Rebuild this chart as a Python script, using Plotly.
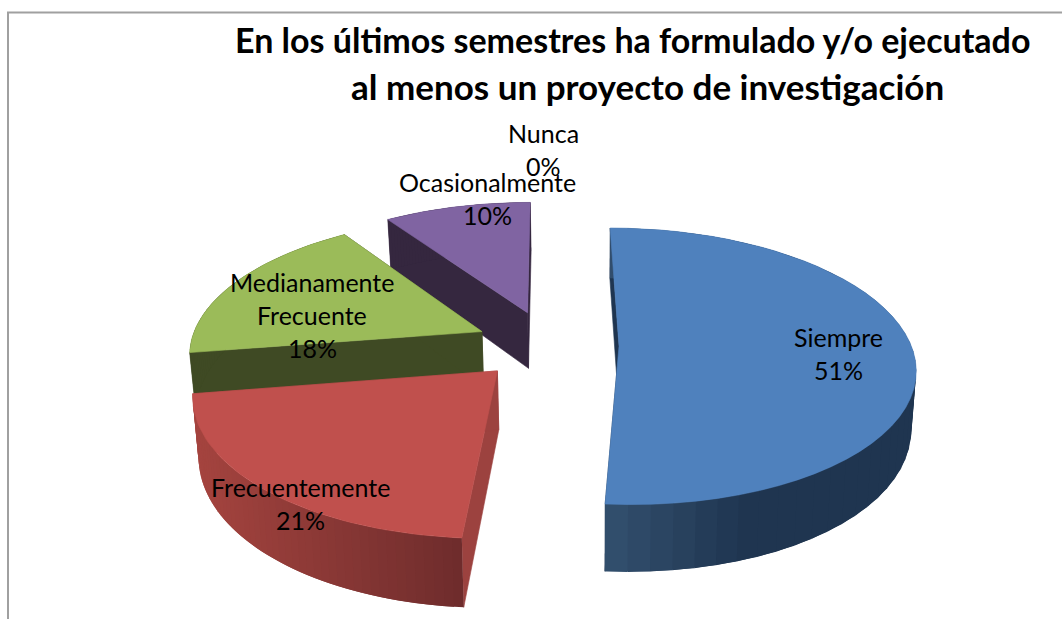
import math
import plotly.graph_objects as go

TITLE_LINES = ["En los últimos semestres ha formulado y/o ejecutado",
               "al menos un proyecto de investigación"]
CATEGORIES = ["Siempre", "Frecuentemente", "Medianamente Frecuente", "Ocasionalmente", "Nunca"]
VALUES = [51.2, 21.3, 18.0, 9.5, 0]
LABEL_LINES = [["Siempre", "51%"], ["Frecuentemente", "21%"],
               ["Medianamente", "Frecuente", "18%"], ["Ocasionalmente", "10%"], ["Nunca", "0%"]]

# style
CAP = ["#4F81BD", "#C0504D", "#9BBB59", "#8064A2", "#4BACC6"]
CUT = ["#1F3550", "#9C423F", "#3F4A24", "#35273F", "#2A5F6E"]
RIM_A = ["#33506F", "#A5443F", "#3F4A24", "#35273F", "#2A5F6E"]
RIM_B = ["#1F3550", "#6E2C2C", "#3F4A24", "#35273F", "#2A5F6E"]
EXPLODE_SCALE = [1.02, 1.08, 1.08, 1.1, 1.0]
LABEL_XY = [(838, 337), (300, 487), (312, 282), (487, 182), (543, 133)]
LINE_GAP = 33
LABEL_SIZE = 25
TITLE_SIZES = [34, 35]
TITLE_XY = [(632, 39), (647, 86)]
CX, CY, RX, RY, K, EXPLODE, DEPTH, VX, G = 549, 345, 292, 135, 0.145, 0.235, 57.5, 590, 0.015


def project(u, v, z=0.0):
    s = 1 / (1 - K * v)
    x = CX + RX * u * s
    y = CY + RY * v * s + DEPTH * z * s
    x += (VX - x) * G * z
    return x, y


def poly(fig, pts, color, width=0.6):
    xs = [p[0] for p in pts] + [pts[0][0]]
    ys = [p[1] for p in pts] + [pts[0][1]]
    fig.add_trace(go.Scatter(x=xs, y=ys, mode="lines", fill="toself", fillcolor=color,
                             line=dict(color=color, width=width), hoverinfo="skip", showlegend=False))


def mix(a, b, t):
    ca = [int(a[i:i + 2], 16) for i in (1, 3, 5)]
    cb = [int(b[i:i + 2], 16) for i in (1, 3, 5)]
    return "rgb(%d,%d,%d)" % tuple(round(p + (q - p) * t) for p, q in zip(ca, cb))


fig = go.Figure()
total = sum(VALUES)
starts, acc = [], 0
for val in VALUES:
    starts.append(acc / total * 2 * math.pi)
    acc += val

for i in [3, 2, 0, 1]:  # back to front
    a0, a1 = starts[i], starts[i] + VALUES[i] / total * 2 * math.pi
    mid = (a0 + a1) / 2
    e = EXPLODE * EXPLODE_SCALE[i]
    ox, oy = e * math.sin(mid), -e * math.cos(mid)
    n = 48
    ang = [a0 + (a1 - a0) * j / n for j in range(n + 1)]
    P = lambda a, z=0.0: project(ox + math.sin(a), oy - math.cos(a), z)
    apex = (ox, oy)
    for a in (a0, a1):
        poly(fig, [project(*apex), P(a), P(a, 1), project(*apex, 1)], CUT[i])
    xs_all = [P(a)[0] for a in ang]
    lo, hi = min(xs_all), max(xs_all)
    for j in range(n):
        t = (0.5 * (xs_all[j] + xs_all[j + 1]) - lo) / (hi - lo)
        if i == 0:
            t = min(1, t / 0.45)
        # each strip runs under its neighbour so that no seam shows
        k = min(j + 2, n)
        poly(fig, [P(ang[j]), P(ang[k]), P(ang[k], 1), P(ang[j], 1)], mix(RIM_A[i], RIM_B[i], t), 0)
    poly(fig, [project(*apex)] + [P(a) for a in ang], CAP[i])

annotations = []
for lines, (x, y) in zip(LABEL_LINES, LABEL_XY):
    for j, text in enumerate(lines):
        annotations.append(dict(x=x, y=y + j * LINE_GAP, xref="x", yref="y", text=text, showarrow=False,
                                xanchor="center", yanchor="middle",
                                font=dict(family="Lato", size=LABEL_SIZE, color="#000000")))
for text, (x, y), size in zip(TITLE_LINES, TITLE_XY, TITLE_SIZES):
    annotations.append(dict(x=x, y=y, xref="x", yref="y", text=text, showarrow=False,
                            xanchor="center", yanchor="middle",
                            font=dict(family="Lato", size=size, color="#000000", weight="bold")))

fig.update_layout(
    width=1062, height=619, margin=dict(l=0, r=0, t=0, b=0),
    paper_bgcolor="white", plot_bgcolor="white", showlegend=False,
    xaxis=dict(range=[0, 1062], visible=False),
    yaxis=dict(range=[619, 0], visible=False),
    annotations=annotations,
    shapes=[dict(type="path", path="M 8 619 L 8 12.5 L 1062 12.5", xref="x", yref="y",
                 line=dict(color="#A0A0A0", width=2))],
)
fig.write_html("out.html", config={"displayModeBar": False},
               post_script="document.body.style.margin='0';")
